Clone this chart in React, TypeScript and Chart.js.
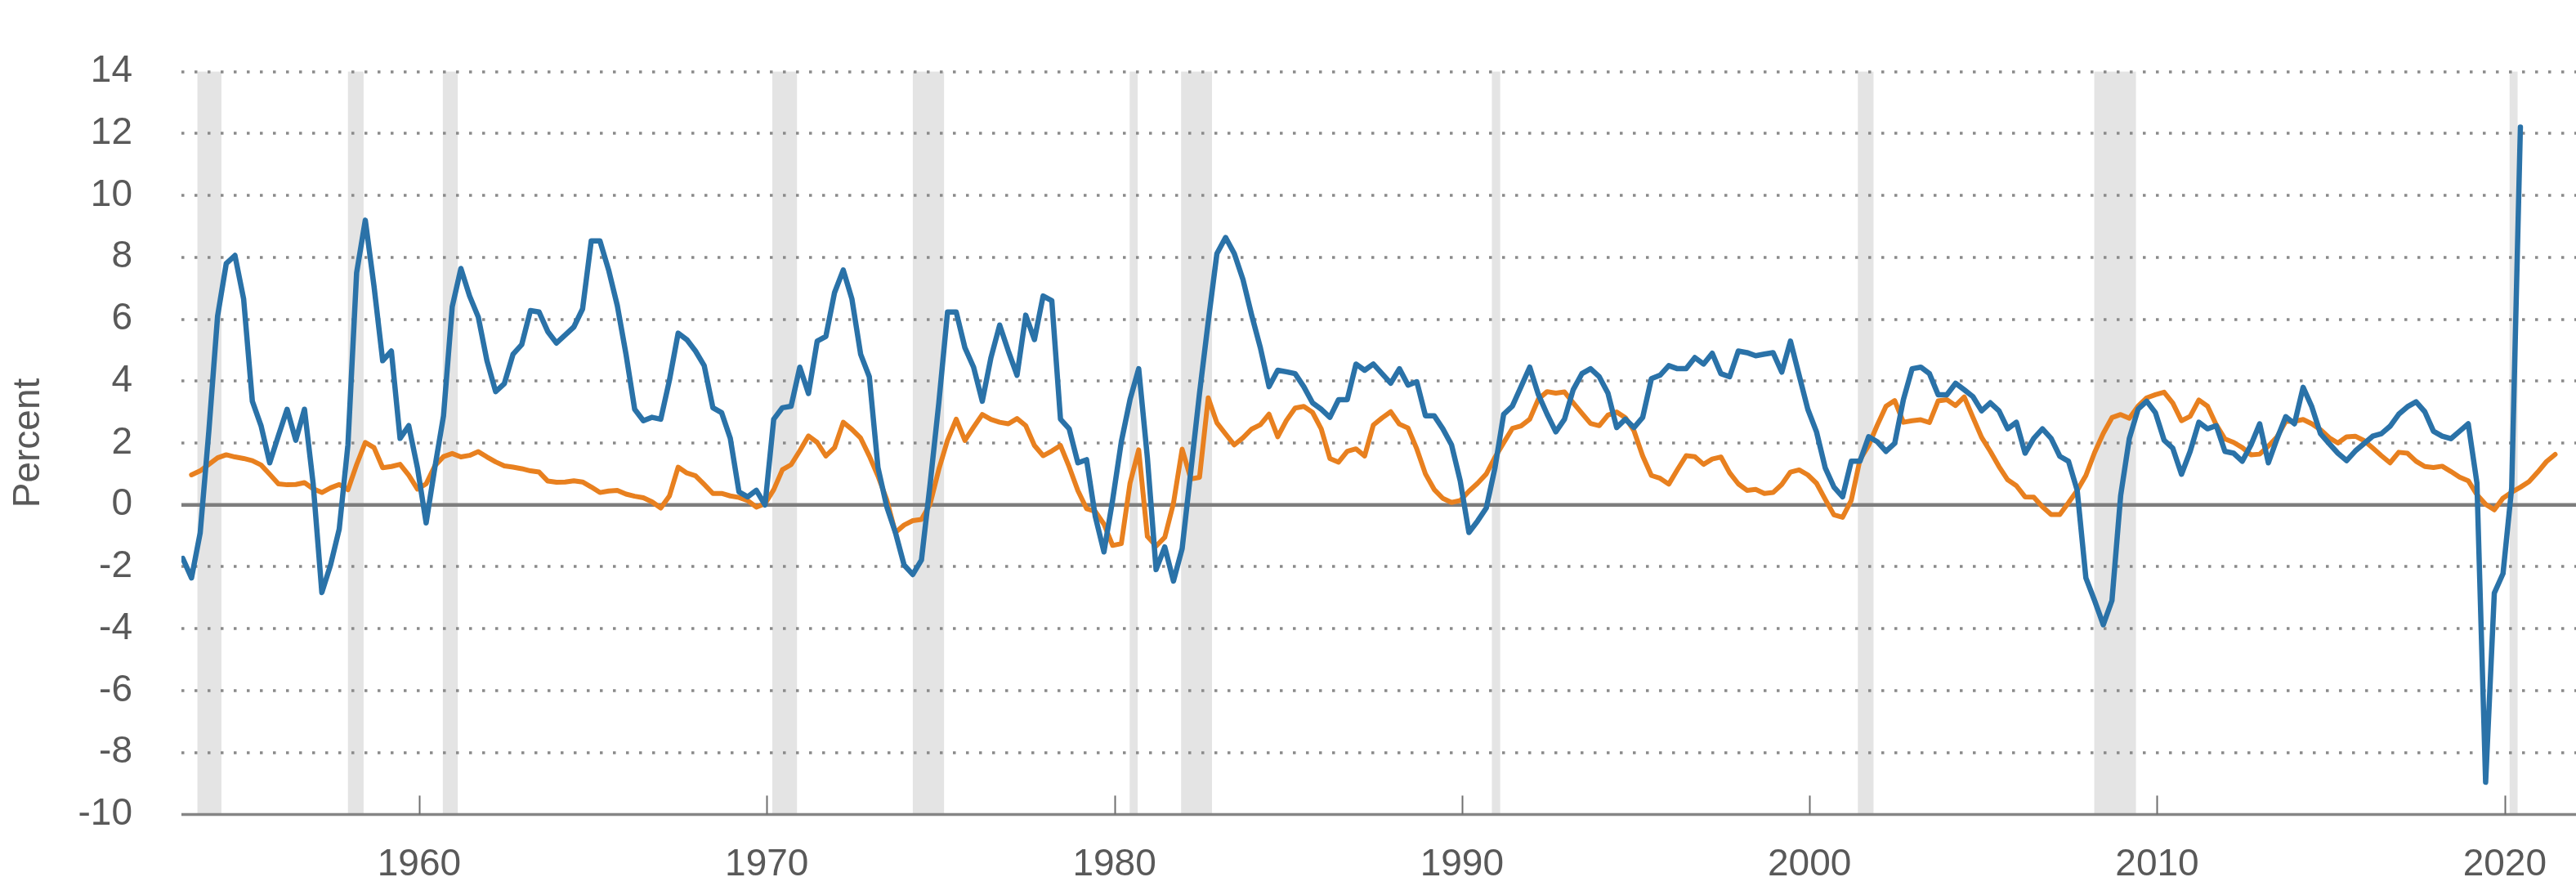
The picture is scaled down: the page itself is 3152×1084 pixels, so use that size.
import React, { useEffect, useRef } from "react";
import { Chart, registerables } from "chart.js";

Chart.register(...registerables);

// ---- Data ----
const QUARTER = 0.25;
const BLUE_START = 1953.2; // first quarterly observation of the blue series
const ORANGE_START = 1953.45; // first quarterly observation of the orange series

const BLUE_VALUES: number[] = [
  -1.73, -2.36, -0.9, 2.4, 6.1, 7.8, 8.06, 6.65, 3.35, 2.56,
  1.36, 2.24, 3.09, 2.09, 3.09, 0.68, -2.83, -1.94, -0.78, 1.94,
  7.5, 9.2, 7.07, 4.66, 4.97, 2.15, 2.56, 1.2, -0.58, 1.2,
  2.88, 6.4, 7.64, 6.75, 6.07, 4.66, 3.66, 3.92, 4.87, 5.18,
  6.28, 6.23, 5.6, 5.23, 5.49, 5.75, 6.33, 8.53, 8.53, 7.59,
  6.44, 4.87, 3.09, 2.72, 2.83, 2.77, 4.03, 5.55, 5.34, 4.97,
  4.5, 3.14, 2.98, 2.15, 0.42, 0.26, 0.47, 0.0, 2.77, 3.14,
  3.19, 4.45, 3.6, 5.29, 5.44, 6.86, 7.59, 6.65, 4.87, 4.14,
  1.2, -0.05, -0.89, -1.94, -2.25, -1.78, 0.68, 3.3, 6.23, 6.23,
  5.08, 4.45, 3.35, 4.76, 5.81, 4.97, 4.19, 6.13, 5.34, 6.75,
  6.6, 2.77, 2.46, 1.36, 1.46, -0.37, -1.52, 0.16, 2.04, 3.4,
  4.4, 1.52, -2.09, -1.36, -2.46, -1.41, 1.1, 3.61, 5.92, 8.12,
  8.64, 8.12, 7.28, 6.13, 5.08, 3.82, 4.35, 4.3, 4.24, 3.82,
  3.3, 3.09, 2.83, 3.4, 3.4, 4.55, 4.35, 4.55, 4.24, 3.93,
  4.4, 3.87, 3.98, 2.88, 2.88, 2.46, 1.94, 0.78, -0.89, -0.52,
  -0.1, 1.2, 2.93, 3.19, 3.82, 4.45, 3.56, 2.93, 2.36, 2.77,
  3.72, 4.24, 4.4, 4.14, 3.61, 2.5, 2.77, 2.5, 2.83, 4.08,
  4.19, 4.5, 4.4, 4.4, 4.76, 4.55, 4.9, 4.24, 4.14, 4.97,
  4.92, 4.82, 4.87, 4.92, 4.29, 5.29, 4.19, 3.09, 2.36, 1.2,
  0.58, 0.26, 1.41, 1.41, 2.2, 2.04, 1.73, 1.99, 3.4, 4.4,
  4.45, 4.24, 3.56, 3.56, 3.93, 3.72, 3.5, 3.04, 3.3, 3.04,
  2.46, 2.67, 1.67, 2.15, 2.46, 2.15, 1.57, 1.41, 0.47, -2.36,
  -3.09, -3.87, -3.09, 0.3, 2.15, 3.09, 3.35, 2.98, 2.09, 1.83,
  0.99, 1.73, 2.67, 2.46, 2.56, 1.73, 1.67, 1.41, 1.94, 2.62,
  1.36, 2.14, 2.85, 2.62, 3.8, 3.17, 2.3, 1.98, 1.67, 1.43,
  1.74, 1.98, 2.22, 2.3, 2.54, 2.93, 3.17, 3.33, 3.01, 2.38,
  2.22, 2.14, 2.38, 2.62, 0.71, -8.96, -2.85, -2.22, 0.55, 12.21,
];

const ORANGE_VALUES: number[] = [
  0.97, 1.1, 1.31, 1.52, 1.62, 1.55, 1.5, 1.43, 1.29, 0.99,
  0.68, 0.65, 0.66, 0.72, 0.52, 0.4, 0.55, 0.66, 0.49, 1.3,
  2.02, 1.85, 1.2, 1.24, 1.31, 0.96, 0.51, 0.68, 1.26, 1.56,
  1.66, 1.55, 1.6, 1.72, 1.55, 1.39, 1.26, 1.22, 1.17, 1.1,
  1.06, 0.77, 0.73, 0.74, 0.78, 0.74, 0.58, 0.4, 0.45, 0.47,
  0.35, 0.28, 0.23, 0.1, -0.1, 0.29, 1.22, 1.03, 0.94, 0.66,
  0.37, 0.37, 0.29, 0.24, 0.14, -0.07, 0.04, 0.49, 1.14, 1.3,
  1.75, 2.23, 2.02, 1.58, 1.85, 2.67, 2.44, 2.16, 1.58, 0.93,
  0.17, -0.89, -0.65, -0.51, -0.47, 0.03, 1.15, 2.09, 2.77, 2.08,
  2.51, 2.92, 2.76, 2.67, 2.62, 2.79, 2.56, 1.92, 1.59, 1.74,
  1.92, 1.23, 0.46, -0.12, -0.21, -0.62, -1.31, -1.25, 0.7, 1.78,
  -1.02, -1.33, -1.05, 0.05, 1.8, 0.84, 0.89, 3.46, 2.65, 2.29,
  1.94, 2.17, 2.45, 2.59, 2.93, 2.2, 2.73, 3.13, 3.18, 2.99,
  2.46, 1.5, 1.38, 1.73, 1.81, 1.58, 2.58, 2.81, 3.01, 2.61,
  2.48, 1.81, 1.0, 0.5, 0.21, 0.08, 0.14, 0.44, 0.7, 1.0,
  1.54, 2.01, 2.47, 2.55, 2.77, 3.42, 3.66, 3.61, 3.65, 3.3,
  2.96, 2.63, 2.56, 2.9, 3.0, 2.82, 2.39, 1.58, 0.95, 0.86,
  0.67, 1.14, 1.59, 1.56, 1.31, 1.48, 1.55, 1.04, 0.68, 0.47,
  0.5, 0.37, 0.4, 0.66, 1.06, 1.13, 0.97, 0.7, 0.18, -0.32,
  -0.4, 0.15, 1.46, 1.92, 2.58, 3.19, 3.37, 2.67, 2.72, 2.75,
  2.66, 3.36, 3.4, 3.21, 3.49, 2.83, 2.18, 1.73, 1.24, 0.81,
  0.62, 0.26, 0.25, -0.06, -0.31, -0.31, 0.07, 0.47, 0.95, 1.69,
  2.31, 2.82, 2.92, 2.8, 3.19, 3.46, 3.56, 3.64, 3.29, 2.72,
  2.86, 3.39, 3.19, 2.59, 2.13, 2.02, 1.85, 1.62, 1.64, 1.9,
  2.2, 2.7, 2.7, 2.76, 2.62, 2.43, 2.17, 2.0, 2.2, 2.22,
  2.08, 1.84, 1.59, 1.36, 1.7, 1.67, 1.41, 1.24, 1.21, 1.25,
  1.08, 0.9, 0.78, 0.33, 0.02, -0.16, 0.22, 0.41, 0.57, 0.75,
  1.06, 1.4, 1.63,
];

const RECESSION_START: number[] = [1953.62, 1957.95, 1960.68, 1970.16, 1974.2, 1980.44, 1981.92, 1990.86, 2001.39, 2008.19, 2020.14];
const RECESSION_END: number[] = [1954.31, 1958.4, 1961.11, 1970.87, 1975.1, 1980.67, 1982.81, 1991.1, 2001.84, 2009.39, 2020.37];

const X_TICKS: number[] = [1960, 1970, 1980, 1990, 2000, 2010, 2020];
const Y_MIN = -10;
const Y_MAX = 14;
const Y_STEP = 2;
const X_MIN = 1953.16;
const X_MAX = 2022.05;
const Y_TITLE = "Percent";

// ---- Styles ----
const BLUE = "#2a72a8";
const ORANGE = "#e8801f";
const TEXT = "#595959";
const FONT_FAMILY = '"Liberation Sans", Arial, Helvetica, sans-serif';
const FONT_SIZE = 46;

const backgroundPlugin = {
  id: "background-decor",
  beforeDatasetsDraw(chart: any) {
    const { ctx, chartArea, scales } = chart;
    const xs = scales.x;
    const ys = scales.y;
    ctx.save();
    // recession shading
    ctx.fillStyle = "#e4e4e4";
    RECESSION_START.forEach((s, i) => {
      const x1 = xs.getPixelForValue(s);
      const x2 = xs.getPixelForValue(RECESSION_END[i]);
      ctx.fillRect(x1, chartArea.top, x2 - x1, chartArea.bottom - chartArea.top);
    });
    // dotted gridlines
    ctx.lineWidth = 3.5;
    ctx.strokeStyle = "#8a8a8a";
    ctx.setLineDash([3.5, 12.5]);
    ys.ticks.forEach((t: any) => {
      if (t.value === 0 || t.value === Y_MIN) return;
      const y = Math.round(ys.getPixelForValue(t.value));
      ctx.beginPath();
      ctx.moveTo(chartArea.left, y);
      ctx.lineTo(chartArea.right, y);
      ctx.stroke();
    });
    ctx.setLineDash([]);
    // zero line
    const y0 = ys.getPixelForValue(0);
    ctx.lineWidth = 4.5;
    ctx.strokeStyle = "#7d7d7d";
    ctx.beginPath();
    ctx.moveTo(chartArea.left, y0);
    ctx.lineTo(chartArea.right, y0);
    ctx.stroke();
    // bottom axis line
    const yb = ys.getPixelForValue(Y_MIN);
    ctx.lineWidth = 3.5;
    ctx.strokeStyle = "#858585";
    ctx.beginPath();
    ctx.moveTo(chartArea.left, yb);
    ctx.lineTo(chartArea.right, yb);
    ctx.stroke();
    // inward tick marks
    ctx.lineWidth = 2;
    ctx.strokeStyle = "#6f6f6f";
    xs.ticks.forEach((t: any) => {
      const x = Math.round(xs.getPixelForValue(t.value)) + 0.5;
      ctx.beginPath();
      ctx.moveTo(x, yb);
      ctx.lineTo(x, yb - 23);
      ctx.stroke();
    });
    ctx.restore();
  },
};

function LineChart() {
  const ref = useRef<HTMLCanvasElement | null>(null);
  useEffect(() => {
    if (!ref.current) return;
    const blueData = BLUE_VALUES.map((v, i) => ({ x: BLUE_START + i * QUARTER, y: v }));
    const orangeData = ORANGE_VALUES.map((v, i) => ({ x: ORANGE_START + i * QUARTER, y: v }));
    const font = { family: FONT_FAMILY, size: FONT_SIZE };
    const chart = new Chart(ref.current, {
      type: "line",
      data: {
        datasets: [
          {
            label: "Blue",
            data: blueData,
            borderColor: BLUE,
            borderWidth: 6.5,
            pointRadius: 0,
            tension: 0,
            borderJoinStyle: "round",
            borderCapStyle: "round",
            fill: false,
          },
          {
            label: "Orange",
            data: orangeData,
            borderColor: ORANGE,
            borderWidth: 6,
            pointRadius: 0,
            tension: 0,
            borderJoinStyle: "round",
            borderCapStyle: "round",
            fill: false,
          },
        ],
      },
      options: {
        animation: false,
        responsive: false,
        maintainAspectRatio: false,
        devicePixelRatio: 1,
        layout: { padding: { top: 34, left: 0, right: 0, bottom: 0 } },
        plugins: { legend: { display: false }, tooltip: { enabled: false } },
        scales: {
          x: {
            type: "linear",
            min: X_MIN,
            max: X_MAX,
            grid: { display: false, drawTicks: false },
            border: { display: false },
            ticks: {
              font,
              color: TEXT,
              padding: 34,
              maxRotation: 0,
              autoSkip: false,
              callback: (v: any) => String(v),
            },
            afterBuildTicks: (s: any) => {
              s.ticks = X_TICKS.map((v) => ({ value: v }));
            },
            afterFit: (s: any) => {
              s.height = 85;
            },
          },
          y: {
            min: Y_MIN,
            max: Y_MAX,
            grid: { display: false, drawTicks: false },
            border: { display: false },
            ticks: { stepSize: Y_STEP, font, color: TEXT, padding: 60 },
            title: {
              display: true,
              text: Y_TITLE,
              font,
              color: TEXT,
              padding: { top: 8, bottom: 0 },
            },
            afterFit: (s: any) => {
              s.width = 222;
            },
          },
        },
      },
      plugins: [backgroundPlugin],
    } as any);
    return () => chart.destroy();
  }, []);
  return <canvas ref={ref} width={3152} height={1084} style={{ width: 3152, height: 1084, display: "block" }} />;
}

export default function App() {
  return (
    <div style={{ position: "fixed", left: 0, top: 0, width: 3152, height: 1084, background: "#ffffff" }}>
      <LineChart />
    </div>
  );
}
